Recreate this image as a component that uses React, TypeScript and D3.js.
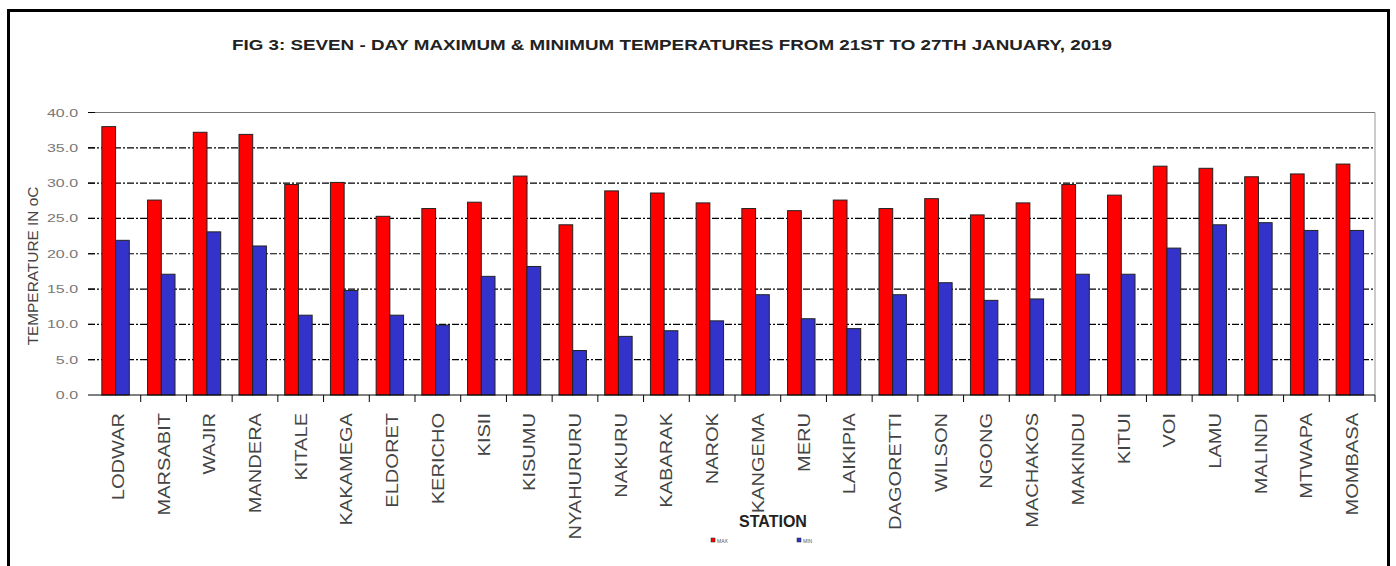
import React from "react";
import * as d3 from "d3";

const stations = ["LODWAR","MARSABIT","WAJIR","MANDERA","KITALE","KAKAMEGA","ELDORET","KERICHO","KISII","KISUMU","NYAHURURU","NAKURU","KABARAK","NAROK","KANGEMA","MERU","LAIKIPIA","DAGORETTI","WILSON","NGONG","MACHAKOS","MAKINDU","KITUI","VOI","LAMU","MALINDI","MTWAPA","MOMBASA"];
const maxTemps = [38.0,27.6,37.2,36.9,29.8,30.1,25.3,26.4,27.3,31.0,24.1,28.9,28.6,27.2,26.4,26.1,27.6,26.4,27.8,25.5,27.2,29.8,28.3,32.4,32.1,30.9,31.3,32.7];
const minTemps = [21.9,17.1,23.1,21.1,11.3,14.8,11.3,9.9,16.8,18.2,6.3,8.3,9.1,10.5,14.2,10.8,9.4,14.2,15.9,13.4,13.6,17.1,17.1,20.8,24.1,24.4,23.3,23.3];
const yTicks = [0,5,10,15,20,25,30,35,40];
const seriesNames = ["MAX","MIN"];
const seriesColors = ["#ff0000","#3333cc"];

const TITLE = "FIG 3: SEVEN - DAY MAXIMUM  & MINIMUM  TEMPERATURES  FROM  21ST TO 27TH JANUARY, 2019";

export default function App() {
  const W = 1396, H = 566;
  const left = 95, right = 1375, top = 112.5, bottom = 395;
  const x = d3.scaleBand<string>().domain(stations).range([left, right]).padding(0);
  const y = d3.scaleLinear().domain([0, 40]).range([bottom, top]);
  const bw = x.bandwidth();
  const barW = bw * 0.3;
  const off = bw * 0.15;
  const font = "'Liberation Sans', Arial, sans-serif";
  const narrow = "'Liberation Sans Narrow', 'Liberation Sans', Arial, sans-serif";

  return (
    <svg width={W} height={H} style={{ position: "absolute", left: 0, top: 0, background: "#fff" }}>
      <rect x={0} y={0} width={W} height={H} fill="#fff" />
      <rect x={8.5} y={10.5} width={1380} height={H} fill="none" stroke="#000" strokeWidth={3} />
      <text x={672} y={50} textAnchor="middle" fontFamily={narrow} fontWeight="bold" fontSize={15} fill="#222" textLength={880} lengthAdjust="spacingAndGlyphs">{TITLE}</text>

      {/* gridlines */}
      {yTicks.filter(t => t > 0 && t < 40).map(t => (
        <line key={t} x1={88} x2={right} y1={y(t)} y2={y(t)} stroke="#000" strokeWidth={1.2} strokeDasharray="7,2,2,2" />
      ))}
      <line x1={88} x2={right} y1={y(40)} y2={y(40)} stroke="#777" strokeWidth={1} />
      <line x1={right} x2={right} y1={y(40)} y2={bottom} stroke="#999" strokeWidth={1} />
      {yTicks.map(t => (
        <line key={"tk" + t} x1={88} x2={left} y1={y(t)} y2={y(t)} stroke="#000" strokeWidth={1} />
      ))}

      {/* y labels */}
      {yTicks.map(t => (
        <text key={"yl" + t} transform={`translate(78,${y(t) + 4}) scale(1.45,1)`} textAnchor="end" fontFamily={font} fontSize={11} fill="#777">{t.toFixed(1)}</text>
      ))}
      <text transform={`translate(38,266) rotate(-90) scale(1.1,1)`} textAnchor="middle" fontFamily={font} fontSize={14} fill="#444">TEMPERATURE  IN oC</text>

      {/* bars */}
      {stations.map((s, i) => {
        const x0 = x(s)!;
        return (
          <g key={s}>
            <rect x={x0 + off} y={y(maxTemps[i])} width={barW} height={bottom - y(maxTemps[i])} fill={seriesColors[0]} stroke="#222" strokeWidth={1} />
            <rect x={x0 + off + barW} y={y(minTemps[i])} width={barW} height={bottom - y(minTemps[i])} fill={seriesColors[1]} stroke="#222" strokeWidth={1} />
          </g>
        );
      })}

      {/* x axis */}
      <line x1={left} x2={right} y1={bottom} y2={bottom} stroke="#000" strokeWidth={1} />
      {stations.map((s) => (
        <line key={"xt" + s} x1={x(s)! + bw} x2={x(s)! + bw} y1={bottom} y2={bottom + 7} stroke="#000" strokeWidth={1} />
      ))}
      {stations.map(s => (
        <text key={"xl" + s} transform={`translate(${x(s)! + bw / 2 + 6},413) rotate(-90) scale(1.18,1)`} textAnchor="end" fontFamily={font} fontSize={17} fill="#444">{s}</text>
      ))}
      <text x={773} y={527} textAnchor="middle" fontFamily={narrow} fontWeight="bold" fontSize={16} fill="#222">STATION</text>

      {/* legend */}
      {seriesNames.map((n, i) => (
        <g key={n} transform={`translate(${711 + i * 86},538)`}>
          <rect x={0} y={0} width={4} height={4} fill={seriesColors[i]} stroke="#222" strokeWidth={0.5} />
          <text x={6} y={4.5} fontFamily={font} fontSize={5} fill="#555">{n}</text>
        </g>
      ))}
    </svg>
  );
}
